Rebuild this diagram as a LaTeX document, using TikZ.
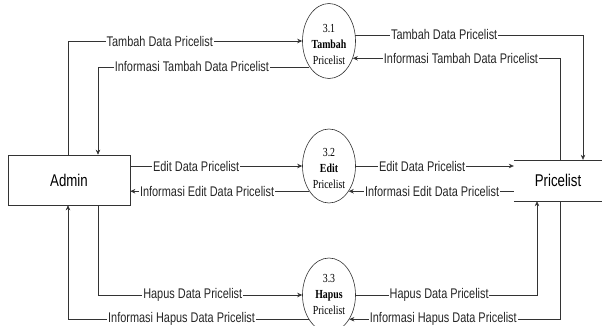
\documentclass[tikz,border=0pt]{standalone}
\usepackage{fontspec}
\usetikzlibrary{shapes.geometric,arrows.meta}
\newfontfamily\lblfont{Liberation Sans}[FakeStretch=0.78]
\newfontfamily\procfont{Liberation Serif}[FakeStretch=0.8]
\tikzset{
  flow/.style={draw=black!80, line width=0.6pt, -{Stealth[length=5pt,width=4.5pt]}},
  lbl/.style={fill=white, inner sep=0.8pt, font=\lblfont\fontsize{14}{15}\selectfont, text=black!85},
  proc/.style={ellipse, draw=black!80, line width=0.6pt, minimum width=53pt, minimum height=75pt, inner sep=0pt, align=center, font=\procfont\fontsize{12.3}{16}\selectfont},
  ptext/.style={align=center, inner sep=0pt, font=\procfont\fontsize{12.3}{16}\selectfont},
  ent/.style={rectangle, draw=black!80, line width=0.6pt, minimum width=122pt, minimum height=50pt, inner sep=0pt, font=\lblfont\fontsize{17}{20}\selectfont},
  store/.style={rectangle, minimum width=88pt, minimum height=41pt, inner sep=0pt, font=\lblfont\fontsize{17}{20}\selectfont}
}
\begin{document}
\begin{tikzpicture}[x=1pt,y=-1pt]
\useasboundingbox (0,0) rectangle (602,326);
\fill[white] (0,0) rectangle (602,326);
\node[ent] (admin) at (69,180) {Admin};
\node[proc] (c31) at (329,41) {};
\node[ptext] (t31) at (329,44) {3.1\\\textbf{Tambah}\\Pricelist};
\node[proc, minimum height=74pt] (c32) at (329,166) {};
\node[ptext] (t32) at (329,168) {3.2\\\textbf{Edit}\\Pricelist};
\node[proc, minimum height=74pt] (c33) at (329,295) {};
\node[ptext] (t33) at (329,294) {3.3\\\textbf{Hapus}\\Pricelist};
\node[store] (pl) at (558,180.5) {Pricelist};
\draw[draw=black!80, line width=0.6pt] (pl.north west) -- (pl.north east) (pl.south west) -- (pl.south east);
\coordinate (xa) at (68,0);
\coordinate (xb) at (98,0);
\coordinate (xc) at (537,0);
\coordinate (xd) at (560,0);
\coordinate (xe) at (583,0);
% top
\draw[flow] (admin.north -| xa) |- node[lbl, pos=0.696] {Tambah Data Pricelist} (c31.west);
\draw[flow] (c31.233) -| node[lbl, pos=0.278] {Informasi Tambah Data Pricelist} (admin.north -| xb);
\draw[flow] (c31.13) -| node[lbl, pos=0.195] {Tambah Data Pricelist} (pl.north -| xe);
\draw[flow] (pl.north -| xd) |- node[lbl, pos=0.739] {Informasi Tambah Data Pricelist} (c31.324);
% middle
\draw[flow] (admin.east |- c32.west) -- node[lbl, pos=0.383] {Edit Data Pricelist} (c32.west);
\draw[flow] (c32.232) -- node[lbl, pos=0.571] {Informasi Edit Data Pricelist} (c32.232 -| admin.east);
\draw[flow] (c32.east) -- node[lbl, pos=0.42] {Edit Data Pricelist} (c32.east -| pl.west);
\draw[flow] (c32.308 -| pl.west) -- node[lbl, pos=0.495] {Informasi Edit Data Pricelist} (c32.308);
% bottom
\draw[flow] (admin.south -| xb) |- node[lbl, pos=0.732] {Hapus Data Pricelist} (c33.west);
\draw[flow] (c33.230) -| node[lbl, pos=0.264] {Informasi Hapus Data Pricelist} (admin.south -| xa);
\draw[flow] (c33.east) -| node[lbl, pos=0.23] {Hapus Data Pricelist} (pl.south -| xc);
\draw[flow] (pl.south -| xd) |- node[lbl, pos=0.777] {Informasi Hapus Data Pricelist} (c33.310);
\end{tikzpicture}
\end{document}
